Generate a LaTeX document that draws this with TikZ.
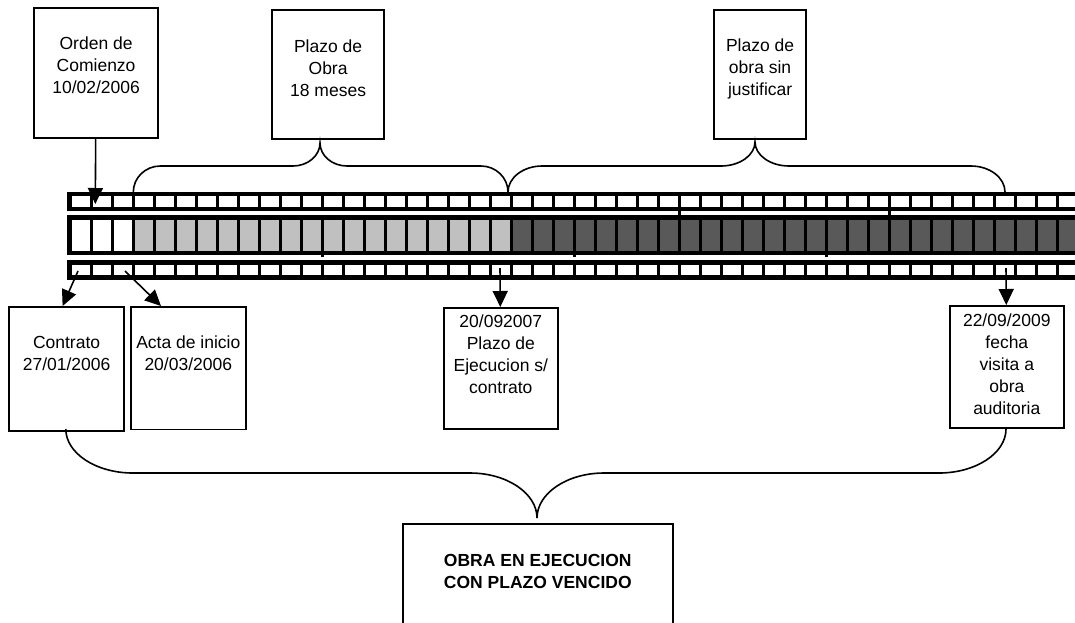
\documentclass[tikz,border=0pt]{standalone}
\usepackage{fontspec}
\setmainfont{Liberation Sans}
\usepackage{tikz}
\usetikzlibrary{arrows.meta,positioning}
\definecolor{plazogris}{HTML}{C0C0C0}
\definecolor{vencgris}{HTML}{595959}
% llave: x izq, x der, x punta, y extremos, y tramo, y punta, radio
\newcommand{\llave}[7]{%
  \draw[llavelinea] (#1,#4) .. controls (#1,{#4+0.55*(#5-#4)}) and ({#1+0.45*#7},#5) .. ({#1+#7},#5)
    -- ({#3-#7},#5) .. controls ({#3-0.45*#7},#5) and (#3,{#6+0.55*(#5-#6)}) .. (#3,#6)
    .. controls (#3,{#6+0.55*(#5-#6)}) and ({#3+0.45*#7},#5) .. ({#3+#7},#5)
    -- ({#2-#7},#5) .. controls ({#2-0.45*#7},#5) and (#2,{#4+0.55*(#5-#4)}) .. (#2,#4);}

\begin{document}
\begin{tikzpicture}[x=1pt,y=-1pt,
  caja/.style={draw,line width=1.6pt,inner sep=0pt,anchor=north west},
  texto/.style={align=center,inner sep=0pt,font=\fontsize{17.5}{22}\selectfont},
  flecha/.style={line width=1.6pt,-{Triangle[width=15pt,length=16pt]}},
  llavelinea/.style={line width=1.6pt}]
  \useasboundingbox (0,0) rectangle (1075,622);
  % linea de tiempo (meses)
  \fill[black] (66.7,192) rectangle (1075,211.3);
  \fill[black] (66.7,214.7) rectangle (1075,254.7);
  \fill[black] (66.7,259.7) rectangle (1075,279.7);
  \foreach \i in {0,...,47} {
    \fill[white] (71.7+21*\i,196.3) rectangle ++(18.5,10.7);
    \fill[white] (71.7+21*\i,264.7) rectangle ++(18.5,10.6);
  }
  \foreach \i in {0,1,2} \fill[white] (71.7+21*\i,219.7) rectangle ++(18.5,31);
  \foreach \i in {3,...,20} \fill[plazogris] (71.7+21*\i,219.7) rectangle ++(18.5,31);
  \foreach \i in {21,...,47} \fill[vencgris] (71.7+21*\i,219.7) rectangle ++(18.5,31);
  \foreach \k in {12,24,36} \fill[black] (69.2+21*\k,254) rectangle ++(2.5,2.5);
  \foreach \k in {29,39} \fill[black] (69.2+21*\k,211) rectangle ++(2.5,4);

  % cajas
  \node[caja,minimum width=124pt,minimum height=130pt] (orden) at (33.3,7.3) {};
  \node[caja,minimum width=112pt,minimum height=129pt] (plazo) at (271.3,9.3) {};
  \node[caja,minimum width=92pt,minimum height=129pt] (sinjust) at (713.3,9.3) {};
  \node[caja,minimum width=115pt,minimum height=124pt] (contrato) at (8.3,306) {};
  \node[caja,minimum width=115pt,minimum height=122.5pt] (acta) at (130,306) {};
  \node[caja,minimum width=114pt,minimum height=121pt] (ejec) at (443,307) {};
  \node[caja,minimum width=114pt,minimum height=122pt] (visita) at (949,305) {};
  \node[caja,minimum width=270pt,minimum height=130pt] (vencido) at (402,523) {};

  \node[texto] (ordentxt) at ([yshift=-58pt]orden.north) {Orden de\\Comienzo\\10/02/2006};
  \node[texto] (plazotxt) at ([yshift=-58.7pt]plazo.north) {Plazo de\\Obra\\18 meses};
  \node[texto] (sinjusttxt) at ([yshift=-59.7pt]sinjust.north) {Plazo de\\obra sin\\justificar};
  \node[texto] (contratotxt) at ([yshift=-47.5pt]contrato.north) {Contrato\\27/01/2006};
  \node[texto] (actatxt) at ([yshift=-47.5pt]acta.north) {Acta de inicio\\20/03/2006};
  \node[texto] (ejectxt) at ([yshift=-47pt]ejec.north) {20/092007\\Plazo de\\Ejecucion s/\\contrato};
  \node[texto] (visitatxt) at ([yshift=-59pt]visita.north) {22/09/2009\\fecha\\visita a\\obra\\auditoria};
  \node[texto,font=\fontsize{17.5}{22}\selectfont\bfseries] (vencidotxt) at ([yshift=-48pt]vencido.north) {OBRA EN EJECUCION\\CON PLAZO VENCIDO};

  % flechas
  \coordinate (tOrden) at (95.3,204);
  \coordinate (tContrato) at (78,271);
  \coordinate (tActa) at (125,271);
  \coordinate (tEjec) at (500,268);
  \coordinate (tVisita) at (1006,268);
  \draw[flecha] (orden) -- (tOrden);
  \draw[flecha] (tContrato) -- ([xshift=-4pt]contrato.north);
  \draw[flecha] (tActa) -- ([xshift=31pt]acta.north west);
  \draw[flecha] (tEjec) -- (ejec);
  \draw[flecha] (tVisita) -- (visita);

  % llaves
  \llave{133.3}{508}{320}{192}{166}{143}{27}
  \llave{508}{1005}{755}{192}{166}{142}{34}
  \llave{65.8}{1006}{537}{429}{473}{518}{67}
\end{tikzpicture}
\end{document}
